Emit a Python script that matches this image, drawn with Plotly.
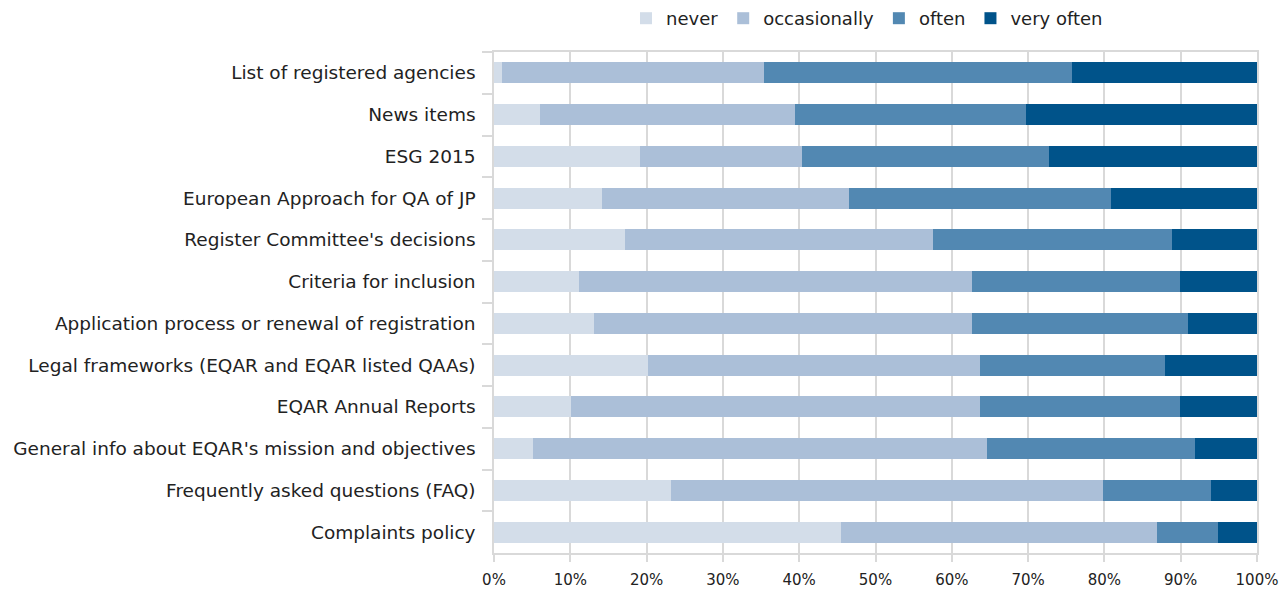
import plotly.graph_objects as go

# Survey items, listed top to bottom
items = [
    "List of registered agencies",
    "News items",
    "ESG 2015",
    "European Approach for QA of JP",
    "Register Committee's decisions",
    "Criteria for inclusion",
    "Application process or renewal of registration",
    "Legal frameworks (EQAR and EQAR listed QAAs)",
    "EQAR Annual Reports",
    "General info about EQAR's mission and objectives",
    "Frequently asked questions (FAQ)",
    "Complaints policy",
]

# Number of respondents per answer
never = [1, 6, 19, 14, 17, 11, 13, 20, 10, 5, 23, 45]
occasionally = [34, 33, 21, 32, 40, 51, 49, 43, 53, 59, 56, 41]
often = [40, 30, 32, 34, 31, 27, 28, 24, 26, 27, 14, 8]
very_often = [24, 30, 27, 19, 11, 10, 9, 12, 10, 8, 6, 5]

x_ticks = [0, 10, 20, 30, 40, 50, 60, 70, 80, 90, 100]
x_tick_labels = [f"{v}%" for v in x_ticks]

series = [
    ("never", never, "#d3dde9"),
    ("occasionally", occasionally, "#abbfd8"),
    ("often", often, "#5288b2"),
    ("very often", very_often, "#00538a"),
]

fig = go.Figure()
for name, vals, color in series:
    fig.add_trace(go.Bar(
        y=items, x=vals, name=name, orientation="h",
        marker=dict(color=color, line=dict(width=0)),
    ))

grid = "#d9d9d9"
fig.update_layout(
    width=1279, height=590,
    barmode="stack", barnorm="percent", bargap=0.5,
    plot_bgcolor="white", paper_bgcolor="white",
    margin=dict(l=494, r=22, t=52, b=37, autoexpand=False),
    font=dict(family="DejaVu Sans", size=17, color="#222222"),
    legend=dict(
        orientation="h", xref="container", x=626 / 1279, xanchor="left",
        yref="container", y=1.0, yanchor="top",
        font=dict(size=18), traceorder="normal", itemwidth=30,
    ),
    showlegend=True,
)

fig.update_xaxes(
    range=[0, 100], tickvals=x_ticks, ticktext=x_tick_labels,
    showgrid=True, gridcolor=grid, gridwidth=1.5,
    showline=True, linecolor=grid, linewidth=1.5, mirror=True,
    ticks="outside", ticklen=7, tickcolor=grid, tickwidth=1.5,
    tickfont=dict(family="DejaVu Sans", size=15), ticklabelstandoff=5,
    ticklabeloverflow="allow",
    zeroline=False, fixedrange=True, automargin=False,
)
fig.update_yaxes(
    categoryorder="array", categoryarray=items, autorange="reversed",
    tickson="boundaries", ticks="outside", ticklen=10, tickcolor=grid, tickwidth=1.5,
    showline=True, linecolor=grid, linewidth=1.5, mirror=True,
    showgrid=False, ticklabelstandoff=13, automargin=False,
    tickfont=dict(size=18.5),
)

fig.write_html("out.html")
